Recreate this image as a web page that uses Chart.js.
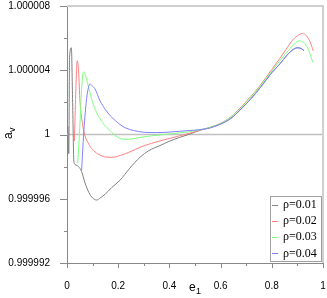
<!DOCTYPE html>
<html>
<head>
<meta charset="utf-8">
<script src="https://cdn.jsdelivr.net/npm/chart.js@4.4.0/dist/chart.umd.min.js"></script>
<style>
  body { margin: 0; background: #fff; }
  #wrap { width: 327px; height: 298px; }
</style>
</head>
<body>
<div id="wrap"><canvas id="grafica" width="327" height="298"></canvas></div>
<script>
// a_v - 1, in units of 1e-6
const eGray = [0.004, 0.007, 0.010, 0.017, 0.022, 0.027, 0.035, 0.045, 0.057, 0.070, 0.085, 0.100, 0.116, 0.130, 0.150, 0.175, 0.207, 0.245, 0.285, 0.320, 0.363, 0.400, 0.440, 0.480, 0.520, 0.560, 0.600, 0.640, 0.676, 0.720, 0.754, 0.800, 0.832, 0.860, 0.880, 0.900, 0.915, 0.926];
const vGray = [0.5, -1.2, 4.8, 5.4, 2.0, -1.7, -1.9, -2.0, -2.3, -3.0, -3.6, -3.95, -4.08, -3.95, -3.7, -3.3, -2.85, -2.1, -1.42, -1.0, -0.69, -0.42, -0.18, 0.03, 0.27, 0.42, 0.65, 1.0, 1.52, 2.25, 2.9, 3.85, 4.4, 4.95, 5.25, 5.4, 5.35, 5.22];

const eRed = [0.029, 0.034, 0.040, 0.045, 0.051, 0.060, 0.070, 0.085, 0.100, 0.120, 0.145, 0.175, 0.210, 0.250, 0.285, 0.330, 0.380, 0.440, 0.480, 0.520, 0.560, 0.600, 0.640, 0.676, 0.720, 0.754, 0.800, 0.832, 0.860, 0.880, 0.900, 0.920, 0.935, 0.950, 0.962];
const vRed = [-0.4, 2.5, 4.6, 4.0, 2.0, 0.7, -0.06, -0.6, -0.95, -1.2, -1.38, -1.42, -1.3, -1.05, -0.8, -0.55, -0.33, -0.08, 0.08, 0.27, 0.45, 0.7, 1.1, 1.65, 2.4, 3.05, 4.05, 4.75, 5.4, 5.85, 6.15, 6.28, 6.15, 5.75, 5.2];

const eGreen = [0.042, 0.050, 0.057, 0.064, 0.072, 0.080, 0.090, 0.100, 0.115, 0.129, 0.148, 0.161, 0.188, 0.207, 0.230, 0.260, 0.285, 0.330, 0.380, 0.440, 0.480, 0.520, 0.560, 0.600, 0.640, 0.676, 0.720, 0.754, 0.800, 0.832, 0.860, 0.880, 0.906, 0.920, 0.940, 0.960];
const vGreen = [-1.8, 0.5, 2.8, 3.9, 3.7, 3.2, 2.6, 2.0, 1.4, 0.98, 0.55, 0.35, -0.06, -0.25, -0.3, -0.26, -0.18, -0.08, 0.0, 0.1, 0.18, 0.3, 0.45, 0.68, 1.08, 1.6, 2.35, 3.0, 3.95, 4.6, 5.15, 5.5, 5.83, 5.78, 5.4, 4.5];

const eBlue = [0.057, 0.065, 0.075, 0.082, 0.090, 0.100, 0.109, 0.129, 0.150, 0.170, 0.190, 0.207, 0.230, 0.260, 0.300, 0.350, 0.400, 0.440, 0.480, 0.520, 0.560, 0.600, 0.640, 0.676, 0.720, 0.754, 0.800, 0.832, 0.860, 0.880, 0.900, 0.915, 0.926];
const vBlue = [-2.25, 0.0, 2.0, 2.8, 3.15, 3.0, 2.85, 2.1, 1.55, 1.15, 0.85, 0.62, 0.4, 0.25, 0.14, 0.12, 0.15, 0.2, 0.25, 0.3, 0.42, 0.65, 1.0, 1.52, 2.25, 2.9, 3.85, 4.4, 4.95, 5.25, 5.4, 5.35, 5.22];

const etiquetas = ['ρ=0.01', 'ρ=0.02', 'ρ=0.03', 'ρ=0.04'];
const colores = ['#808080', '#ff8080', '#80ff80', '#8080ff'];

function puntos(xs, ys) {
    return xs.map((x, i) => ({ x: x, y: ys[i] }));
}

function etiquetaY(v) {
    let r = Math.round(v);
    if (r % 4 !== 0) return '';
    if (r === 0) return '1';
    return (1 + r * 1e-6).toFixed(6);
}

const marco = {
    id: 'marco',
    afterDraw(chart) {
        const ctx = chart.ctx;
        const a = chart.chartArea;
        const sx = chart.scales.x, sy = chart.scales.y;
        ctx.save();
        // top and right border
        ctx.strokeStyle = '#d0d0d0';
        ctx.lineWidth = 2;
        ctx.beginPath();
        ctx.moveTo(a.left, a.top);
        ctx.lineTo(a.right, a.top);
        ctx.lineTo(a.right, a.bottom);
        ctx.stroke();
        // ticks
        ctx.strokeStyle = '#888';
        ctx.lineWidth = 1;
        ctx.beginPath();
        sy.ticks.forEach(t => {
            let p = Math.round(sy.getPixelForValue(t.value)) + 0.5;
            let len = Math.round(t.value) % 4 === 0 ? 7 : 3;
            ctx.moveTo(a.left - len, p);
            ctx.lineTo(a.left, p);
        });
        sx.ticks.forEach(t => {
            let p = Math.round(sx.getPixelForValue(t.value)) + 0.5;
            let len = Math.round(t.value * 10) % 2 === 0 ? 5 : 3;
            ctx.moveTo(p, a.bottom);
            ctx.lineTo(p, a.bottom + len);
        });
        ctx.stroke();
        // axis titles
        ctx.fillStyle = '#000';
        ctx.font = '12px "Liberation Sans", Arial, sans-serif';
        ctx.textBaseline = 'alphabetic';
        ctx.textAlign = 'left';
        ctx.fillText('e', 189, 291);
        ctx.font = '9px "Liberation Sans", Arial, sans-serif';
        ctx.fillText('1', 196, 294);
        ctx.translate(12, 139);
        ctx.rotate(-Math.PI / 2);
        ctx.font = '12px "Liberation Sans", Arial, sans-serif';
        ctx.fillText('a', 0, 0);
        ctx.font = '9px "Liberation Sans", Arial, sans-serif';
        ctx.fillText('v', 7, 3);
        ctx.restore();

        // legend box
        ctx.save();
        let lx = 270, ly = 196, lw = 51, lh = 65;
        ctx.fillStyle = '#fff';
        ctx.fillRect(lx, ly, lw, lh);
        ctx.strokeStyle = '#a0a0a0';
        ctx.lineWidth = 1;
        ctx.strokeRect(lx + 0.5, ly + 0.5, lw, lh);
        ctx.font = '12px "Liberation Serif", "Times New Roman", serif';
        ctx.textBaseline = 'middle';
        ctx.fillStyle = '#000';
        chart.data.datasets.forEach(ds => {
            if (ds.leyenda === undefined) return;
            let y = ly + 8.5 + ds.leyenda * 16.3;
            ctx.strokeStyle = ds.borderColor;
            ctx.beginPath();
            ctx.moveTo(lx + 2, Math.round(y) + 0.5);
            ctx.lineTo(lx + 8, Math.round(y) + 0.5);
            ctx.stroke();
            ctx.fillText(ds.label, lx + 13, y);
        });
        ctx.restore();
    }
};

const seriesX = [eGray, eRed, eGreen, eBlue];
const seriesY = [vGray, vRed, vGreen, vBlue];
let datasetValue = [];
for (let i = 0; i < 4; i++) {
    datasetValue.push({
        label: etiquetas[i],
        leyenda: i,
        data: puntos(seriesX[i], seriesY[i]),
        borderColor: colores[i],
        backgroundColor: colores[i],
        borderWidth: 1,
        pointRadius: 0,
        cubicInterpolationMode: 'monotone',
        order: 3 - i
    });
}
datasetValue.push({
    label: 'ref',
    data: [{ x: 0, y: 0 }, { x: 1, y: 0 }],
    borderColor: '#c0c0c0',
    borderWidth: 1.5,
    pointRadius: 0,
    order: 5
});

const config = {
    type: 'line',
    data: { datasets: datasetValue },
    options: {
        responsive: false,
        animation: false,
        events: [],
        layout: { padding: { top: 6, right: 4, left: 0, bottom: 0 } },
        plugins: { legend: { display: false }, tooltip: { enabled: false } },
        scales: {
            x: {
                type: 'linear',
                min: 0, max: 1,
                grid: { display: false },
                border: { display: true, color: '#888', width: 1 },
                ticks: {
                    stepSize: 0.1,
                    autoSkip: false,
                    maxRotation: 0,
                    padding: 9,
                    color: '#000',
                    font: { family: '"Liberation Sans", Arial, sans-serif', size: 10 },
                    callback: v => (Math.round(v * 10) % 2 === 0 ? String(Math.round(v * 10) / 10) : '')
                },
                afterFit: s => { s.height = 35; s.paddingLeft = 0; s.paddingRight = 0; }
            },
            y: {
                type: 'linear',
                min: -8, max: 8,
                grid: { display: false },
                border: { display: true, color: '#888', width: 1 },
                ticks: {
                    stepSize: 2,
                    autoSkip: false,
                    padding: 9,
                    color: '#000',
                    font: { family: '"Liberation Sans", Arial, sans-serif', size: 10 },
                    callback: v => etiquetaY(v)
                },
                afterFit: s => { s.width = 67; s.paddingTop = 0; s.paddingBottom = 0; }
            }
        }
    },
    plugins: [marco]
};

const myChart = new Chart(document.getElementById('grafica'), config);
</script>
</body>
</html>
